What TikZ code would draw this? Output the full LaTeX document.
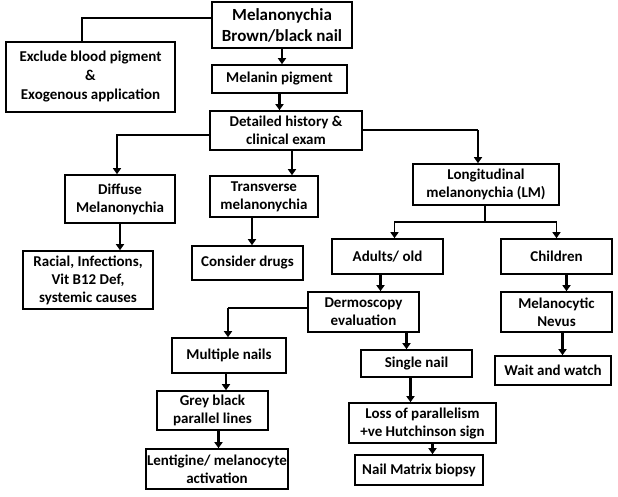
\documentclass[tikz,border=0pt]{standalone}
\usepackage{fontspec}
\setmainfont{Carlito}
\usetikzlibrary{arrows.meta}
\tikzset{
  box/.style={draw, line width=1.6pt, align=center, inner sep=1pt,
    font=\bfseries\fontsize{15}{18}\selectfont},
  arr/.style={->, line width=2.4pt},
  elbow/.style={line width=1.4pt},
}
\begin{document}
\begin{tikzpicture}[x=1pt, y=-1pt, >={Triangle[width=8pt,length=6pt]}]
\useasboundingbox (0,0) rectangle (618,496);

% Top part
\node[box, minimum width=140, minimum height=46,
  font=\bfseries\fontsize{17}{21}\selectfont] (mel) at (282,25) {Melanonychia\\Brown/black nail};
\node[box, minimum width=169, minimum height=70,
  font=\bfseries\fontsize{15}{19}\selectfont] (exc) at (90.5,77) {Exclude blood pigment\\\&\\Exogenous application};
\node[box, minimum width=135, minimum height=28] (pig) at (279.5,79) {Melanin pigment};
\node[box, minimum width=152, minimum height=39] (hist) at (286,130.5) {Detailed history \&\\clinical exam};

% Three kinds
\node[box, minimum width=110, minimum height=48] (dif) at (120,199) {Diffuse\\Melanonychia};
\node[box, minimum width=108, minimum height=41] (tra) at (264,196.5) {Transverse\\melanonychia};
\node[box, minimum width=146, minimum height=41] (lon) at (486,184.5) {Longitudinal\\melanonychia (LM)};
\node[box, minimum width=130, minimum height=58] (rac) at (88,280) {Racial, Infections,\\Vit B12 Def,\\systemic causes};
\node[box, minimum width=111, minimum height=34] (drg) at (247.5,263) {Consider drugs};

% Longitudinal branch
\node[box, minimum width=111, minimum height=35] (adu) at (387.5,256.5) {Adults/ old};
\node[box, minimum width=111, minimum height=35] (chi) at (556.5,256.5) {Children};
\node[box, minimum width=111, minimum height=40] (der) at (363.5,312) {Dermoscopy\\evaluation};
\node[box, minimum width=111, minimum height=40] (nev) at (556.5,312) {Melanocytic\\Nevus};
\node[box, minimum width=116, minimum height=29] (wat) at (553,370.5) {Wait and watch};

% Dermoscopy
\node[box, minimum width=114, minimum height=35] (mul) at (229,355.5) {Multiple nails};
\node[box, minimum width=111, minimum height=27] (sin) at (416.5,363.5) {Single nail};
\node[box, minimum width=111, minimum height=39] (gre) at (212.5,410.5) {Grey black\\parallel lines};
\node[box, minimum width=138, minimum height=40] (len) at (217,469) {Lentigine/ melanocyte\\activation};
\node[box, minimum width=147, minimum height=40] (los) at (422.5,423) {Loss of parallelism\\+ve Hutchinson sign};
\node[box, minimum width=128, minimum height=30] (nai) at (419,470) {Nail Matrix biopsy};

% Connectors
\coordinate (k1) at (82,18);
\draw[elbow] (mel.west |- k1) -- (k1) -- (k1 |- exc.north);
\draw[arr] (mel.south) -- (mel.south |- pig.north);
\draw[arr] (pig.south) -- (pig.south |- hist.north);

\coordinate (k2) at (117,135);
\draw[elbow, ->] (hist.west |- k2) -- (k2) -- (k2 |- dif.north);
\draw[arr] ([xshift=6]hist.south) -- ([xshift=6]hist.south |- tra.north);
\coordinate (k3) at (478,130);
\draw[elbow] (hist.east |- k3) -- (k3);
\draw[arr] (k3) -- (k3 |- lon.north);

\draw[arr] (dif.south) -- (dif.south |- rac.north);
\draw[arr] ([xshift=-12]tra.south) -- ([xshift=-12]tra.south |- drg.north);

\coordinate (k4) at (485,222);
\draw[elbow] (lon.south -| k4) -- (k4);
\draw[elbow, ->] (k4) -| ([xshift=7]adu.north);
\draw[elbow, ->] (k4) -| (chi.north);

\draw[arr] ([xshift=-7]adu.south) -- ([xshift=-7]adu.south |- der.north);
\draw[arr] ([xshift=10]chi.south) -- ([xshift=10]chi.south |- nev.north);
\draw[arr] ([xshift=6]nev.south) -- ([xshift=6]nev.south |- wat.north);

\coordinate (k5) at (228,308);
\draw[elbow] (der.west |- k5) -- (k5);
\draw[arr] (k5) -- (k5 |- mul.north);
\draw[arr] ([xshift=43]der.south) -- ([xshift=43]der.south |- sin.north);

\draw[arr] ([xshift=-3]mul.south) -- ([xshift=-3]mul.south |- gre.north);
\draw[arr] ([xshift=6]gre.south) -- ([xshift=6]gre.south |- len.north);
\draw[arr] ([xshift=-6]sin.south) -- ([xshift=-6]sin.south |- los.north);
\draw[arr] ([xshift=10]los.south) -- ([xshift=10]los.south |- nai.north);
\end{tikzpicture}
\end{document}
